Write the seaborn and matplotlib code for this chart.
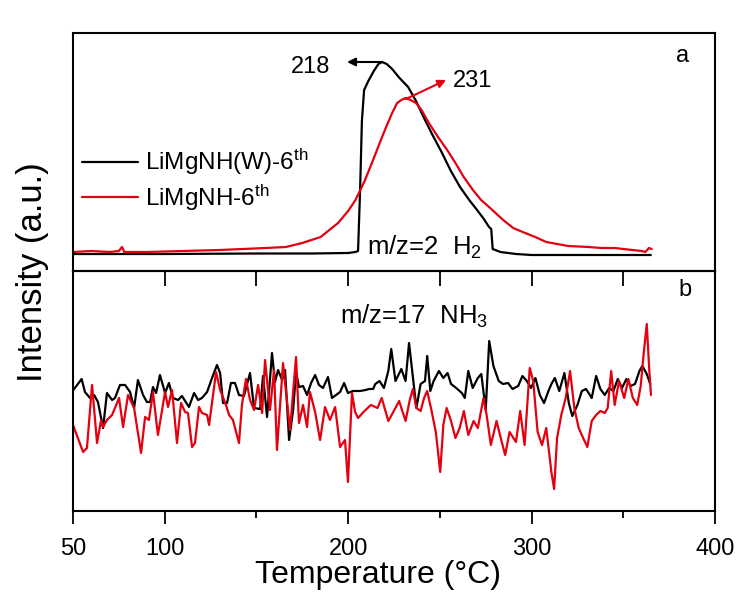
import matplotlib
matplotlib.use('Agg')
import matplotlib.pyplot as plt
import seaborn as sns

# H2 (m/z=2) traces, panel a
h2_temp_w = [50, 100, 150, 180, 200, 204, 205.4, 206.5, 207.5, 208.7, 211, 214, 216.5, 218.5,
             221, 224, 228, 232.7, 237, 241.9, 246, 251.2, 256, 261, 266, 270.3, 274, 276.8,
             278, 278.8, 283, 291.5, 300, 330, 365]
h2_int_w = [17, 17, 17.5, 17.5, 18, 19, 20, 80, 150, 181, 190, 200, 207, 209,
            207, 202, 193, 184, 170, 151, 136, 118, 100, 84, 71, 61, 52, 44,
            42, 22, 19, 17, 16, 16, 16]

h2_temp = [50, 60, 70, 75, 76.7, 78, 90, 110, 130, 142.7, 155, 166, 175, 185, 194.5, 200,
           204, 209, 213.6, 217, 220.7, 224, 226.7, 229, 231.3, 234, 237, 240, 244, 249,
           254, 258.5, 263, 268, 272.5, 278, 284.5, 290, 296.5, 302, 308, 314, 320, 331,
           338, 345.5, 350, 355, 360, 362, 364, 365.5]
h2_int = [19, 20, 19, 20, 24, 19, 19, 20, 21, 22, 23, 24, 28, 34, 48, 60,
          71, 90, 111, 127, 144, 158, 168, 171, 173, 171, 168, 161, 148, 134,
          121, 108, 94, 81, 71, 62, 51, 43, 38, 34, 29, 27, 25, 24,
          23, 23, 22, 21, 20, 19, 23, 22]

# NH3 (m/z=17) traces, panel b
nh3_temp_w = [50.2, 54.7, 56.5, 59.3, 61.5, 63.6, 66.4, 68.5, 71.3, 72.9, 75.6, 78.4, 81.1, 83.3,
              85.4, 88.2, 90.3, 92.0, 93.6, 95.3, 97.4, 100.2, 102.3, 104.5, 107.3, 109.4, 113.2,
              116.0, 118.2, 120.3, 123.1, 125.8, 128.5, 130.2, 131.8, 134.0, 136.1, 138.3, 140.5,
              143.2, 146.5, 148.7, 152.0, 153.6, 155.8, 158.5, 160.1, 161.8, 164.0, 165.6, 167.8,
              170.0, 171.6, 173.2, 175.4, 177.6, 179.8, 182.0, 184.1, 186.3, 189.0, 191.2, 193.4,
              195.6, 197.8, 199.9, 202.7, 206.5, 209.5, 211.5, 213.6, 214.8, 217.1, 219.5, 221.9,
              223.5, 225.8, 229.0, 231.3, 233.2, 234.9, 237.2, 239.5, 241.9, 243.1, 244.8, 246.6,
              249.5, 251.9, 254.2, 256.1, 258.9, 262.0, 263.6, 265.5, 267.9, 270.7, 272.6, 275.0,
              276.9, 279.2, 282.1, 284.4, 287.2, 289.6, 292.7, 295.0, 297.4, 299.7, 302.1, 304.5,
              306.8, 309.2, 310.8, 312.7, 315.1, 317.9, 320.3, 322.2, 325.0, 327.4, 329.7, 332.8,
              335.2, 337.5, 339.9, 342.3, 344.6, 347.0, 349.3, 351.7, 354.0, 356.4, 358.8, 360.4,
              362.8, 364.7]
nh3_int_w = [121, 132, 119, 113, 116, 109, 83, 118, 111, 113, 126, 126, 119, 103,
             131, 116, 109, 109, 124, 118, 136, 118, 128, 113, 111, 115, 104,
             118, 111, 113, 119, 133, 146, 138, 108, 108, 128, 128, 116,
             115, 138, 103, 102, 135, 94, 158, 129, 141, 131, 141, 71,
             101, 139, 124, 125, 116, 128, 136, 126, 123, 134, 113, 116,
             119, 128, 118, 120, 120, 121, 122, 122, 127, 130, 123, 140,
             162, 130, 142, 130, 168, 140, 103, 127, 130, 155, 120, 130,
             140, 133, 138, 127, 123, 118, 113, 140, 123, 133, 137, 101,
             170, 145, 130, 127, 128, 122, 125, 135, 130, 123, 133, 116,
             108, 120, 127, 133, 120, 138, 108, 95, 106, 120, 122, 113,
             135, 122, 116, 123, 120, 132, 123, 132, 125, 127, 140, 145,
             137, 127]

nh3_temp = [50.0, 55.5, 57.6, 60.4, 63.1, 65.3, 66.4, 68.5, 71.3, 75.1, 77.3, 80.0, 83.3, 87.1,
            89.3, 91.4, 93.6, 96.3, 100.2, 101.8, 104.0, 106.7, 108.9, 111.1, 112.7, 114.9, 116.5,
            118.7, 120.3, 123.1, 124.2, 128.0, 130.2, 133.4, 135.1, 137.2, 140.5, 142.1, 144.3,
            146.5, 148.7, 150.9, 153.1, 154.7, 157.4, 159.6, 161.2, 164.5, 166.7, 168.3, 171.6,
            173.2, 175.4, 177.6, 179.2, 182.0, 184.7, 187.4, 190.1, 192.9, 195.6, 198.3, 199.9,
            202.1, 203.8, 205.4, 208.9, 212.4, 216.0, 218.3, 221.9, 224.9, 227.8, 231.3, 233.6,
            235.3, 237.2, 239.5, 241.4, 243.1, 245.5, 247.8, 250.2, 251.9, 253.7, 256.1, 258.5,
            260.8, 263.1, 265.5, 268.4, 270.7, 273.8, 275.5, 277.8, 280.9, 283.2, 285.6, 288.0,
            291.5, 293.8, 296.2, 299.0, 300.9, 303.3, 305.7, 308.0, 310.8, 312.3, 313.9, 316.2,
            318.6, 321.0, 323.3, 325.7, 328.1, 330.4, 332.8, 335.2, 337.5, 339.9, 341.5, 343.4,
            345.3, 347.7, 350.5, 352.8, 355.2, 357.6, 359.5, 361.1, 362.8, 364.2, 365.1]
nh3_int = [86, 59, 63, 126, 68, 91, 84, 91, 96, 113, 84, 116, 103, 58,
           94, 91, 119, 76, 119, 104, 121, 68, 108, 99, 98, 64, 68,
           104, 98, 96, 86, 139, 121, 106, 96, 91, 68, 106, 132,
           111, 101, 126, 98, 151, 101, 141, 61, 148, 109, 81, 154,
           88, 106, 84, 119, 99, 71, 104, 91, 104, 64, 71, 29,
           118, 99, 93, 100, 106, 103, 113, 90, 100, 110, 90, 111,
           122, 103, 100, 113, 120, 100, 79, 39, 86, 103, 90, 73,
           83, 100, 76, 90, 83, 113, 96, 66, 90, 73, 56, 79,
           69, 100, 66, 143, 130, 79, 66, 83, 39, 22, 73, 96,
           113, 140, 103, 83, 73, 64, 90, 96, 100, 98, 103, 140,
           106, 130, 113, 132, 113, 106, 125, 157, 187, 140, 116]

series_labels = ['LiMgNH(W)-6$^{\\mathrm{th}}$', 'LiMgNH-6$^{\\mathrm{th}}$']
tick_values = [50, 100, 200, 300, 400]
minor_ticks = [150, 250, 350]
black = '#000000'
red = '#e3000f'

sns.set_theme(style='white')
plt.rcParams['font.family'] = ['Liberation Sans', 'DejaVu Sans']
plt.rcParams['mathtext.fontset'] = 'custom'
plt.rcParams['mathtext.rm'] = 'Liberation Sans'
plt.rcParams['mathtext.it'] = 'Liberation Sans:italic'
plt.rcParams['text.color'] = black
plt.rcParams['axes.labelcolor'] = black
plt.rcParams['xtick.color'] = black
plt.rcParams['ytick.color'] = black

W, H = 753, 596
fig = plt.figure(figsize=(W / 100, H / 100), dpi=100)
ax_b = fig.add_axes([73 / W, 1 - 511 / H, 642 / W, 240 / H])
ax_a = fig.add_axes([73 / W, 1 - 271 / H, 642 / W, 238 / H])
ax_a.set_zorder(3)
ax_a.patch.set_alpha(0)

# panel a
sns.lineplot(x=h2_temp_w, y=h2_int_w, ax=ax_a, color=black, lw=1.6, estimator=None,
             label=series_labels[0])
sns.lineplot(x=h2_temp, y=h2_int, ax=ax_a, color=red, lw=1.6, estimator=None,
             label=series_labels[1])
ax_a.set_xlim(50, 400)
ax_a.set_ylim(0, 238)
ax_a.set_yticks([])
ax_a.set_xticks([100, 150, 200, 250, 300, 350])
ax_a.tick_params(axis='x', bottom=True, direction='out', length=10.5, width=1.3,
                 labelbottom=False)
ax_a.set_xlabel('')
ax_a.legend(loc='center left', bbox_to_anchor=(0.014, 0.382), frameon=False,
            fontsize=17.5, handlelength=2.3, handletextpad=0.3, labelspacing=0.22,
            borderaxespad=0, borderpad=0)

ax_a.annotate('', xy=(199.4, 209), xytext=(218.5, 209),
              arrowprops=dict(arrowstyle='-|>', color=black, lw=1.5, mutation_scale=12,
                              shrinkA=0, shrinkB=0))
ax_a.text(179.3, 198, '218', ha='center', va='baseline', fontsize=17)
ax_a.annotate('', xy=(253.4, 191), xytext=(231.5, 172),
              arrowprops=dict(arrowstyle='-|>', color=red, lw=1.5, mutation_scale=12,
                              shrinkA=0, shrinkB=0))
ax_a.text(267.9, 184, '231', ha='center', va='baseline', fontsize=17)
ax_a.text(241.4, 16, 'm/z=2  H$_2$', ha='center', va='baseline', fontsize=18.5)
ax_a.text(0.95, 0.905, 'a', transform=ax_a.transAxes, ha='center', va='center', fontsize=17)

# panel b
sns.lineplot(x=nh3_temp_w, y=nh3_int_w, ax=ax_b, color=black, lw=1.6, estimator=None)
sns.lineplot(x=nh3_temp, y=nh3_int, ax=ax_b, color=red, lw=1.6, estimator=None)
ax_b.set_xlim(50, 400)
ax_b.set_ylim(0, 240)
ax_b.set_yticks([])
ax_b.set_xticks(tick_values)
ax_b.set_xticklabels([str(t) for t in tick_values], fontsize=17)
ax_b.set_xticks(minor_ticks, minor=True)
ax_b.tick_params(axis='x', which='major', bottom=True, direction='out', length=9.5,
                 width=1.3, pad=10)
ax_b.tick_params(axis='x', which='minor', bottom=True, direction='out', length=5,
                 width=1.3)
ax_b.text(236, 187, 'm/z=17  NH$_3$', ha='center', va='baseline', fontsize=18.5)
ax_b.text(0.953, 0.92, 'b', transform=ax_b.transAxes, ha='center', va='center', fontsize=17)
ax_b.set_xlabel('Temperature (°C)', fontsize=23)
ax_b.xaxis.set_label_coords(0.475, -0.205)

for ax in (ax_a, ax_b):
    for sp in ax.spines.values():
        sp.set_color(black)
        sp.set_linewidth(1.5)

fig.text(0.043, 1 - 272 / H, 'Intensity (a.u.)', rotation=90, ha='center', va='center',
         fontsize=25)

fig.savefig('out.png', dpi=100)
